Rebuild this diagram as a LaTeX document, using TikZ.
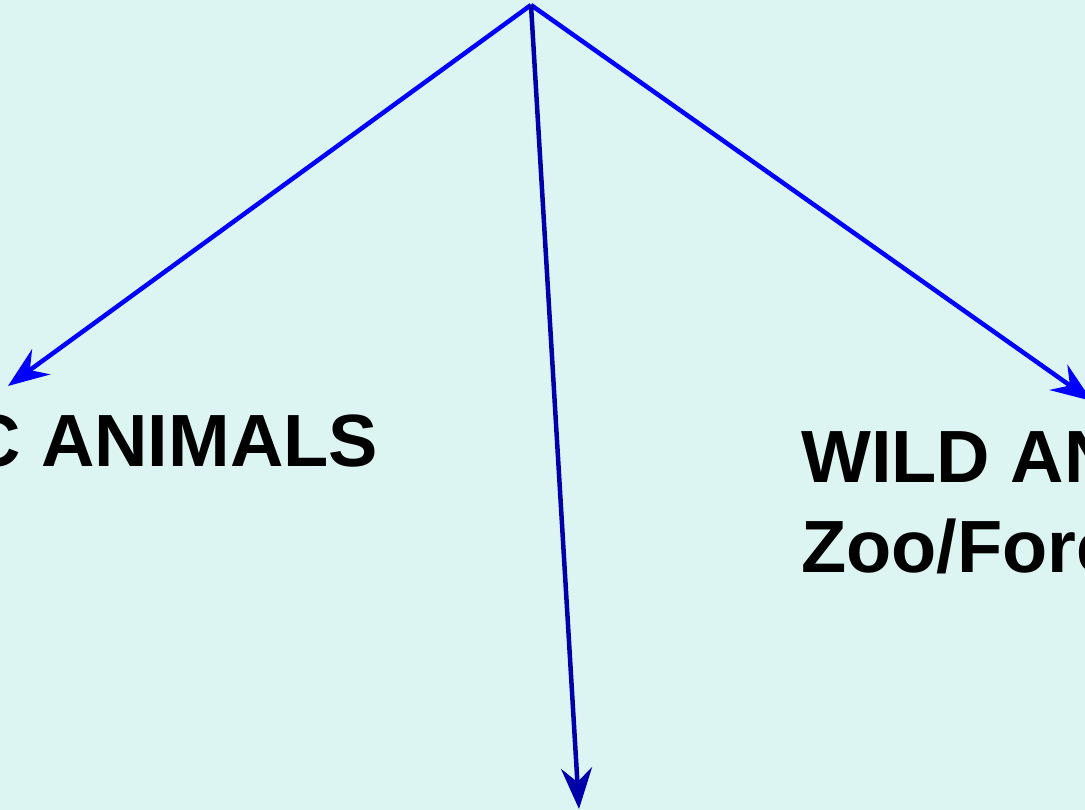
\documentclass[tikz,border=0pt]{standalone}
\usepackage{fontspec}
\setmainfont{Liberation Sans}
\usetikzlibrary{arrows.meta}
\definecolor{bgmint}{RGB}{221,245,242}
\definecolor{linkblue}{RGB}{0,0,255}
\definecolor{darkblue}{RGB}{0,0,170}
\begin{document}
\begin{tikzpicture}[x=1bp,y=-1bp,
  animaltext/.style={font=\fontsize{74bp}{90bp}\selectfont\bfseries, inner sep=0pt, anchor=base west, text=black},
  link/.style={line width=4.5bp, -{Stealth[length=41bp,width=31bp,inset=14bp]}},
]
\fill[bgmint] (0,0) rectangle (1085,810);
\useasboundingbox (0,0) rectangle (1085,810);
\clip (0,0) rectangle (1085,810);
\coordinate (root) at (531,5);
\coordinate (domtip) at (8,386);
\coordinate (wildtip) at (1092,401);
\coordinate (midtip) at (579,809);
\node[animaltext] (dom) at (-33,466) {C ANIMALS};
\node[animaltext] (wild) at (801,482) {WILD AN};
\node[animaltext] (wildsub) at (801,572) {Zoo/Fore};
\draw[link, linkblue] (root) -- (domtip);
\draw[link, linkblue] (root) -- (wildtip);
\draw[link, darkblue] (root) -- (midtip);
\end{tikzpicture}
\end{document}
